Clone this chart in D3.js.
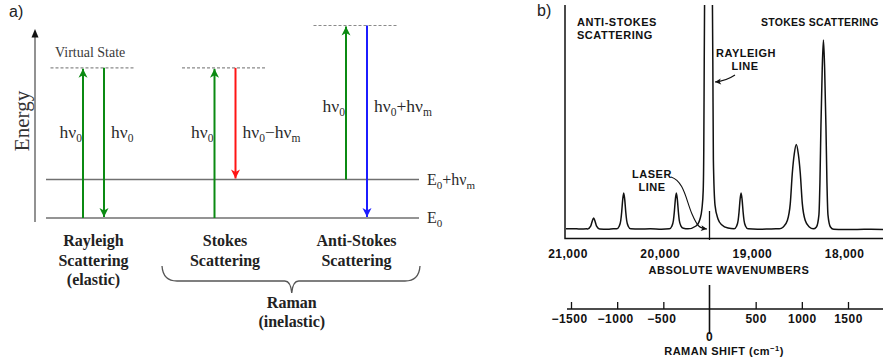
<!DOCTYPE html>
<html>
<head>
<meta charset="utf-8">
<script src="https://cdn.jsdelivr.net/npm/d3@7"></script>
<style>
  body { margin: 0; background: #fff; }
  svg { display: block; }
</style>
</head>
<body>
<svg width="883" height="364"></svg>
<script>
// ---------- panel a: energy diagram ----------
var groups = ["Rayleigh", "Stokes", "Anti-Stokes"];
var groupLabels = [["Rayleigh", "Scattering", "(elastic)"], ["Stokes", "Scattering"], ["Anti-Stokes", "Scattering"]];
var levels = [0, 1];                       // E0, E0+hvm
var levelLabels = [["E", "_0"], ["E", "_0", "+hν", "_m"]];
var virtualLevels = [3.9, 3.9, 5.0];       // virtual state per group
var transitions = [
  {group: "Rayleigh", side: -1, from: 0, to: 3.9, color: "green", label: ["hν", "_0"]},
  {group: "Rayleigh", side: 1, from: 3.9, to: 0, color: "green", label: ["hν", "_0"]},
  {group: "Stokes", side: -1, from: 0, to: 3.9, color: "green", label: ["hν", "_0"]},
  {group: "Stokes", side: 1, from: 3.9, to: 1, color: "red", label: ["hν", "_0", "−hν", "_m"]},
  {group: "Anti-Stokes", side: -1, from: 1, to: 5.0, color: "green", label: ["hν", "_0"]},
  {group: "Anti-Stokes", side: 1, from: 5.0, to: 0, color: "blue", label: ["hν", "_0", "+hν", "_m"]}
];

// ---------- panel b: Raman spectrum ----------
// [raman shift (cm-1), relative intensity]
var spectrum = [
  [-1556, 0.6], [-1480, 0.7], [-1400, 0.5], [-1330, 0.6],
  [-1320, 0.5], [-1287, 2], [-1271, 4.5], [-1255, 6.3], [-1239, 4.5], [-1223, 2], [-1190, 0.5],
  [-1100, 0.4], [-1040, 0.6],
  [-1005, 0.6], [-978, 2], [-961, 5], [-951, 9.5], [-940, 16], [-929, 19.5], [-918, 16], [-907, 9.5], [-897, 5], [-880, 2], [-853, 0.6],
  [-760, 0.5], [-640, 0.6], [-520, 0.4],
  [-435, 0.6], [-408, 2], [-391, 5], [-381, 9.5], [-370, 16], [-359, 19.5], [-348, 16], [-337, 9.5], [-327, 5], [-310, 2.2], [-283, 0.9],
  [-233, 0.6], [-146, 2.1], [-103, 5.8], [-81, 11.6], [-68, 21], [-62, 42], [-57, 89], [-52, 132], [-11, 1200],
  [30, 132], [36, 89], [42, 37], [60, 13], [92, 5.8], [135, 2.6], [200, 1.0],
  [266, 0.6], [293, 2], [310, 5], [320, 9.5], [331, 16], [342, 19.5], [353, 16], [364, 9.5], [374, 5], [391, 2], [418, 0.6],
  [520, 0.4], [640, 0.5], [720, 0.6],
  [756, 0.6], [799, 1.6], [843, 5], [875, 14], [897, 30], [918, 40], [940, 45], [962, 40], [983, 30], [1005, 14], [1037, 5], [1081, 1.6], [1124, 0.6],
  [1158, 1.6], [1185, 8], [1196, 25], [1207, 55], [1221, 85], [1234, 100], [1247, 85], [1261, 55], [1272, 25], [1283, 8], [1310, 1.6], [1345, 0.4],
  [1450, 0.3], [1600, 0.3], [1750, 0.4], [1880, 0.3]
];
var wnTicks = [21000, 20000, 19000, 18000];
var wnTickLabels = ["21,000", "20,000", "19,000", "18,000"];
var shiftTicks = [-1500, -1000, -500, 500, 1000, 1500];
var shiftTickLabels = ["−1500", "−1000", "−500", "500", "1000", "1500"];

var svg = d3.select("svg");
var colors = {green: "#0b8a12", red: "#ff1414", blue: "#1c1cff"};
var serif = "'Liberation Serif', 'DejaVu Serif', serif";
var sans = "'Liberation Sans', Arial, sans-serif";

// text with subscripts: parts starting with "_" are lowered
function rich(textSel, parts, subSize) {
  var shift = 0;
  parts.forEach(function (p) {
    var sub = p.charAt(0) === "_";
    var target = sub ? 4 : 0;
    var t = textSel.append("tspan").text(sub ? p.slice(1) : p).attr("dy", target - shift);
    if (sub) t.attr("font-size", subSize);
    shift = target;
  });
}

// ===== panel a =====
var a = svg.append("g").attr("class", "panel-a");
var yE = d3.scaleLinear().domain([0, 1]).range([218, 179.5]);
var xG = d3.scalePoint().domain(groups).range([93.5, 356.5]);
var armOffset = 10.5;

var defs = svg.append("defs");
Object.keys(colors).forEach(function (k) {
  defs.append("marker")
    .attr("id", "head-" + k)
    .attr("viewBox", "-10 -5 11 10")
    .attr("refX", 0).attr("refY", 0)
    .attr("markerWidth", 11).attr("markerHeight", 10)
    .attr("markerUnits", "userSpaceOnUse")
    .attr("orient", "auto")
    .append("path")
    .attr("d", "M0,0 L-9,-4.5 L-6.5,0 L-9,4.5 Z")
    .attr("fill", colors[k]);
});
defs.append("marker")
  .attr("id", "head-black")
  .attr("viewBox", "-7 -4 8 8")
  .attr("refX", 0).attr("refY", 0)
  .attr("markerWidth", 8).attr("markerHeight", 8)
  .attr("markerUnits", "userSpaceOnUse")
  .attr("orient", "auto")
  .append("path")
  .attr("d", "M0,0 L-6,-3 L-4.5,0 L-6,3 Z")
  .attr("fill", "#111");

a.append("text").attr("x", 9).attr("y", 17)
  .attr("font-family", sans).attr("font-size", 16).attr("fill", "#222").text("a)");

// energy axis
a.append("line").attr("x1", 35).attr("x2", 35).attr("y1", 222).attr("y2", 36)
  .attr("stroke", "#777").attr("stroke-width", 1.6);
a.append("path").attr("d", "M35,29 L31.5,37.5 L38.5,37.5 Z").attr("fill", "#111");
a.append("text")
  .attr("transform", "translate(29,121) rotate(-90)")
  .attr("text-anchor", "middle")
  .attr("font-family", serif).attr("font-size", 21).attr("fill", "#333")
  .text("Energy");

// levels
a.selectAll(".level").data(levels).enter().append("line")
  .attr("class", "level")
  .attr("x1", 46).attr("x2", 419)
  .attr("y1", function (d) { return yE(d); })
  .attr("y2", function (d) { return yE(d); })
  .attr("stroke", "#707070").attr("stroke-width", 1.6);
a.selectAll(".level-label").data(levels).enter().append("text")
  .attr("class", "level-label")
  .attr("x", 427)
  .attr("y", function (d) { return yE(d) + 5; })
  .attr("font-family", serif).attr("font-size", 16).attr("fill", "#2a2a2a")
  .each(function (d, i) { rich(d3.select(this), levelLabels[i], 11); });

// virtual states
a.selectAll(".virtual").data(groups).enter().append("line")
  .attr("class", "virtual")
  .attr("x1", function (d) { return xG(d) - 43; })
  .attr("x2", function (d) { return xG(d) + 42; })
  .attr("y1", function (d, i) { return yE(virtualLevels[i]); })
  .attr("y2", function (d, i) { return yE(virtualLevels[i]); })
  .attr("stroke", "#8a8a8a").attr("stroke-width", 1.2)
  .attr("stroke-dasharray", "3,2");
a.append("text").attr("x", 55).attr("y", 57)
  .attr("font-family", serif).attr("font-size", 14).attr("fill", "#3a3a3a")
  .text("Virtual State");

// transitions
a.selectAll(".arrow").data(transitions).enter().append("line")
  .attr("class", "arrow")
  .attr("x1", function (d) { return xG(d.group) + d.side * armOffset; })
  .attr("x2", function (d) { return xG(d.group) + d.side * armOffset; })
  .attr("y1", function (d) { return yE(d.from); })
  .attr("y2", function (d) { return yE(d.to) + (d.to > d.from ? 1 : -1); })
  .attr("stroke", function (d) { return colors[d.color]; })
  .attr("stroke-width", 2)
  .attr("marker-end", function (d) { return "url(#head-" + d.color + ")"; });

var labelBase = {"Rayleigh": 138, "Stokes": 138, "Anti-Stokes": 112};
a.selectAll(".arrow-label").data(transitions).enter().append("text")
  .attr("class", "arrow-label")
  .attr("x", function (d) { return xG(d.group) + d.side * armOffset + (d.side < 0 ? -1 : 7); })
  .attr("y", function (d) { return labelBase[d.group]; })
  .attr("text-anchor", function (d) { return d.side < 0 ? "end" : "start"; })
  .attr("font-family", serif).attr("font-size", 17.5).attr("fill", "#2a2a2a")
  .each(function (d) { rich(d3.select(this), d.label, 11.5); });

// group names
groups.forEach(function (g, i) {
  a.append("text")
    .attr("x", xG(g)).attr("text-anchor", "middle")
    .attr("font-family", serif).attr("font-size", 16).attr("font-weight", "bold").attr("fill", "#222")
    .selectAll("tspan").data(groupLabels[i]).enter().append("tspan")
    .attr("x", xG(g))
    .attr("y", function (d, j) { return 246 + j * 19.5; })
    .text(function (d) { return d; });
});

// brace under the Raman pair
var bl = xG("Stokes") - 63, br = 420, bm = (xG("Stokes") + xG("Anti-Stokes")) / 2 + 1;
a.append("path")
  .attr("d", "M" + bl + ",266 Q" + (bl + 1) + ",281 " + (bl + 15) + ",281 L" + (bm - 7) + ",281 Q" + (bm - 1) + ",281 " + bm + ",293 Q" + (bm + 1) + ",281 " + (bm + 7) + ",281 L" + (br - 15) + ",281 Q" + (br - 1) + ",281 " + br + ",266")
  .attr("fill", "none").attr("stroke", "#555").attr("stroke-width", 1.3);
a.append("text")
  .attr("text-anchor", "middle")
  .attr("font-family", serif).attr("font-size", 16).attr("font-weight", "bold").attr("fill", "#222")
  .selectAll("tspan").data(["Raman", "(inelastic)"]).enter().append("tspan")
  .attr("x", bm)
  .attr("y", function (d, j) { return 308 + j * 19; })
  .text(function (d) { return d; });

// ===== panel b =====
var b = svg.append("g").attr("class", "panel-b");
var xShift = d3.scaleLinear().domain([-1500, 1500]).range([571, 848]);
var xWn = d3.scaleLinear().domain([21000, 18000]).range([567.5, 844.1]);
var yI = d3.scaleLinear().domain([0, 100]).range([230, 40]);
var ink = "#111";

b.append("text").attr("x", 537).attr("y", 16)
  .attr("font-family", sans).attr("font-size", 16).attr("fill", "#222").text("b)");

defs.append("clipPath").attr("id", "spec-clip")
  .append("rect").attr("x", 566).attr("y", 5).attr("width", 320).attr("height", 240);

var line = d3.line()
  .x(function (d) { return xShift(d[0]); })
  .y(function (d) { return yI(d[1]); })
  .curve(d3.curveMonotoneX);

b.append("path")
  .datum(spectrum)
  .attr("clip-path", "url(#spec-clip)")
  .attr("d", line)
  .attr("fill", "none").attr("stroke", ink).attr("stroke-width", 1.5)
  .attr("stroke-linejoin", "round");

// frame: left side and bottom
b.append("path").attr("d", "M565,5 L565,238.5 L883,238.5")
  .attr("fill", "none").attr("stroke", ink).attr("stroke-width", 1.5);

// laser line marker
b.append("line")
  .attr("x1", xShift(0)).attr("x2", xShift(0)).attr("y1", 211).attr("y2", 240)
  .attr("stroke", ink).attr("stroke-width", 1.3);

var capFont = function (sel, size) {
  sel.attr("font-family", sans).attr("font-weight", "bold").attr("font-size", size || 11)
    .attr("letter-spacing", 0.5).attr("fill", ink);
  return sel;
};

// absolute wavenumber axis
var wnAxis = d3.axisBottom(xWn).tickValues(wnTicks).tickSize(0).tickPadding(11)
  .tickFormat(function (d, i) { return wnTickLabels[i]; });
var gWn = b.append("g").attr("transform", "translate(0,238.5)").call(wnAxis);
gWn.select(".domain").remove();
gWn.selectAll("text").call(capFont, 12);
b.append("text").attr("x", xWn(19000) - 23).attr("y", 274).attr("text-anchor", "middle")
  .call(capFont).text("ABSOLUTE WAVENUMBERS");

// raman shift axis
b.append("line").attr("x1", 567).attr("x2", 883).attr("y1", 309).attr("y2", 309)
  .attr("stroke", ink).attr("stroke-width", 1.4);
var shAxis = d3.axisBottom(xShift).tickValues(shiftTicks).tickSizeInner(-7).tickSizeOuter(0).tickPadding(5)
  .tickFormat(function (d, i) { return shiftTickLabels[i]; });
var gSh = b.append("g").attr("transform", "translate(0,309)").call(shAxis);
gSh.select(".domain").remove();
gSh.selectAll("line").attr("stroke", ink).attr("stroke-width", 1.3);
gSh.selectAll("text").call(capFont, 12).attr("dx", function (d) { return d < 0 ? -2 : 0; });
b.append("line").attr("x1", xShift(0)).attr("x2", xShift(0)).attr("y1", 285).attr("y2", 334)
  .attr("stroke", ink).attr("stroke-width", 1.6);
b.append("text").attr("x", xShift(0)).attr("y", 341).attr("text-anchor", "middle").call(capFont, 12).text("0");
var rs = b.append("text").attr("x", 724).attr("y", 355).attr("text-anchor", "middle").call(capFont);
rs.append("tspan").text("RAMAN SHIFT (cm");
rs.append("tspan").attr("font-size", 7.5).attr("dy", -4).text("−1");
rs.append("tspan").attr("dy", 4).text(")");

// annotations
b.append("text").attr("x", 577).attr("y", 26).call(capFont).text("ANTI-STOKES");
b.append("text").attr("x", 577).attr("y", 39).call(capFont).text("SCATTERING");
b.append("text").attr("x", 761).attr("y", 26).call(capFont, 10.5).attr("letter-spacing", 0.25)
  .text("STOKES SCATTERING");
b.append("text").attr("x", 746).attr("y", 57).attr("text-anchor", "middle").call(capFont).text("RAYLEIGH");
b.append("text").attr("x", 745).attr("y", 70).attr("text-anchor", "middle").call(capFont).text("LINE");
b.append("text").attr("x", 652).attr("y", 178).attr("text-anchor", "middle").call(capFont).text("LASER");
b.append("text").attr("x", 652).attr("y", 191).attr("text-anchor", "middle").call(capFont).text("LINE");

// leaders
b.append("path").attr("d", "M735,75 Q726,81 715,82")
  .attr("fill", "none").attr("stroke", ink).attr("stroke-width", 1.1)
  .attr("marker-end", "url(#head-black)");
b.append("path").attr("d", "M671,177 C684,181 686,200 692,214 S700,228 707,229")
  .attr("fill", "none").attr("stroke", ink).attr("stroke-width", 1.1)
  .attr("marker-end", "url(#head-black)");
</script>
</body>
</html>
